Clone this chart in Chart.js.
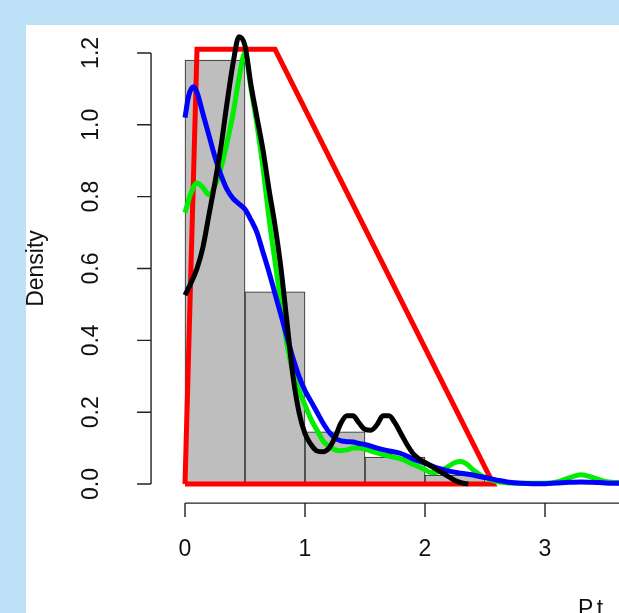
<!DOCTYPE html>
<html lang="en">
<head>
  <meta charset="UTF-8">
  <title>Density</title>
  <style>
    html, body { margin: 0; padding: 0; overflow: hidden; }
    body { background: #bde2f7; width: 619px; height: 613px; position: relative; }
    #panel { position: absolute; left: 26px; top: 25px; width: 800px; height: 700px; background: #ffffff; }
    #grafico { position: absolute; left: 0; top: 0; }
  </style>
  <script src="https://cdn.jsdelivr.net/npm/chart.js"></script>
</head>
<body>
<div id="panel"></div>
<canvas id="grafico" width="760" height="613"></canvas>
<script>
  // histogram (bins of 0.5)
  const binMids = [0.25, 0.75, 1.25, 1.75, 2.25, 2.75, 3.25, 3.75, 4.25];
  const binDensity = [1.18, 0.535, 0.145, 0.075, 0.025, 0, 0.005, 0, 0];

  // red line
  const redX = [0, 0.1, 0.75, 2.57, 0];
  const redY = [0, 1.21, 1.21, 0, 0];

  // green density
  const greenX = [0, 0.05, 0.1, 0.15, 0.2, 0.25, 0.3, 0.35, 0.4, 0.45, 0.5, 0.55, 0.6, 0.65, 0.7, 0.75, 0.8, 0.85, 0.9, 0.95,
    1.0, 1.05, 1.1, 1.15, 1.2, 1.25, 1.3, 1.35, 1.4, 1.45, 1.5, 1.55, 1.6, 1.7, 1.8, 1.9, 2.0, 2.05, 2.1, 2.15, 2.2, 2.25,
    2.3, 2.35, 2.4, 2.5, 2.6, 2.7, 2.8, 3.0, 3.1, 3.2, 3.3, 3.4, 3.5, 3.6, 3.8, 4.0];
  const greenY = [0.755, 0.81, 0.838, 0.825, 0.805, 0.83, 0.88, 0.95, 1.03, 1.13, 1.2, 1.1, 1.0, 0.88, 0.74, 0.62, 0.5, 0.39, 0.31, 0.26,
    0.22, 0.18, 0.15, 0.12, 0.105, 0.095, 0.093, 0.095, 0.1, 0.1, 0.097, 0.092, 0.087, 0.078, 0.07, 0.055, 0.04, 0.032, 0.033, 0.04, 0.05, 0.06,
    0.063, 0.055, 0.04, 0.018, 0.007, 0.003, 0.002, 0.002, 0.006, 0.017, 0.026, 0.018, 0.007, 0.004, 0.002, 0.001];

  // blue density
  const blueX = [0, 0.03, 0.07, 0.1, 0.15, 0.2, 0.25, 0.3, 0.35, 0.4, 0.45, 0.5, 0.55, 0.6, 0.65, 0.7, 0.75, 0.8, 0.85, 0.9, 0.95,
    1.0, 1.05, 1.1, 1.15, 1.2, 1.25, 1.3, 1.35, 1.4, 1.45, 1.5, 1.6, 1.7, 1.8, 1.9, 2.0, 2.1, 2.2, 2.3, 2.4, 2.5, 2.6, 2.7,
    2.8, 2.9, 3.0, 3.1, 3.2, 3.3, 3.4, 3.5, 3.6, 3.8, 4.0];
  const blueY = [1.02, 1.08, 1.106, 1.09, 1.03, 0.97, 0.91, 0.86, 0.82, 0.795, 0.78, 0.765, 0.735, 0.7, 0.645, 0.59, 0.53, 0.47, 0.41, 0.35, 0.3,
    0.26, 0.23, 0.2, 0.17, 0.145, 0.128, 0.12, 0.118, 0.117, 0.113, 0.11, 0.1, 0.092, 0.085, 0.07, 0.058, 0.045, 0.036, 0.03, 0.025, 0.018, 0.011, 0.005,
    0.002, 0.001, 0.001, 0.003, 0.005, 0.006, 0.005, 0.003, 0.002, 0.001, 0];

  // black density
  const blackX = [0, 0.05, 0.1, 0.15, 0.2, 0.25, 0.3, 0.35, 0.4, 0.45, 0.5, 0.55, 0.6, 0.65, 0.7, 0.75, 0.8, 0.85, 0.9, 0.95,
    1.0, 1.05, 1.1, 1.15, 1.2, 1.25, 1.3, 1.35, 1.4, 1.45, 1.5, 1.55, 1.6, 1.65, 1.7, 1.75, 1.8, 1.85, 1.9, 1.95,
    2.0, 2.05, 2.1, 2.15, 2.2, 2.25, 2.3, 2.36];
  const blackY = [0.526, 0.56, 0.6, 0.66, 0.75, 0.84, 0.94, 1.06, 1.17, 1.245, 1.22, 1.11, 1.02, 0.93, 0.82, 0.72, 0.6, 0.45, 0.3, 0.2,
    0.14, 0.11, 0.092, 0.09, 0.1, 0.13, 0.17, 0.19, 0.19, 0.17, 0.152, 0.15, 0.165, 0.19, 0.19, 0.17, 0.14, 0.11, 0.085, 0.07,
    0.06, 0.05, 0.04, 0.03, 0.02, 0.01, 0.004, 0];

  const yTicks = [0, 0.2, 0.4, 0.6, 0.8, 1.0, 1.2];
  const xTicks = [0, 1, 2, 3, 4];
  const yTitle = 'Density';
  const xTitle = 'P.t';

  const toPts = (xs, ys) => xs.map((x, i) => ({ x: x, y: ys[i] }));
  const fuente = '"Liberation Sans", Arial, sans-serif';

  // ejes estilo R
  const ejesR = {
    id: 'ejesR',
    afterDraw(chart) {
      const c = chart.ctx;
      const xs = chart.scales.x, ys = chart.scales.y;
      const axX = xs.getPixelForValue(-0.283);
      const axY = ys.getPixelForValue(-0.053);
      c.save();
      c.strokeStyle = '#222';
      c.fillStyle = '#111';
      c.lineWidth = 1.4;
      c.font = '23px ' + fuente;

      // eje y
      const y0 = ys.getPixelForValue(yTicks[0]);
      const y1 = ys.getPixelForValue(yTicks[yTicks.length - 1]);
      c.beginPath();
      c.moveTo(axX, y0); c.lineTo(axX, y1);
      yTicks.forEach(v => {
        const p = ys.getPixelForValue(v);
        c.moveTo(axX, p); c.lineTo(axX - 14, p);
      });
      c.stroke();
      c.textAlign = 'center';
      c.textBaseline = 'middle';
      yTicks.forEach(v => {
        const p = ys.getPixelForValue(v);
        c.save();
        c.translate(axX - 59, p);
        c.rotate(-Math.PI / 2);
        c.fillText(v.toFixed(1), 0, 0);
        c.restore();
      });
      c.save();
      c.translate(axX - 114, (y0 + y1) / 2);
      c.rotate(-Math.PI / 2);
      c.fillText(yTitle, 0, 0);
      c.restore();

      // eje x
      const x0 = xs.getPixelForValue(xTicks[0]);
      const x1 = xs.getPixelForValue(xTicks[xTicks.length - 1]);
      c.beginPath();
      c.moveTo(x0, axY); c.lineTo(x1, axY);
      xTicks.forEach(v => {
        const p = xs.getPixelForValue(v);
        c.moveTo(p, axY); c.lineTo(p, axY + 14);
      });
      c.stroke();
      xTicks.forEach(v => {
        c.fillText(String(v), xs.getPixelForValue(v), axY + 47);
      });
      c.textAlign = 'left';
      c.textBaseline = 'top';
      c.fillText(xTitle, 578, 598);
      c.restore();
    }
  };

  const ctx = document.getElementById('grafico').getContext('2d');
  const linea = (pts, color, orden, tension) => ({
    type: 'line',
    data: pts,
    borderColor: color,
    borderWidth: 5,
    pointRadius: 0,
    fill: false,
    tension: tension,
    cubicInterpolationMode: tension ? 'monotone' : 'default',
    order: orden
  });

  new Chart(ctx, {
    type: 'bar',
    data: {
      datasets: [
        {
          type: 'bar',
          data: toPts(binMids, binDensity),
          backgroundColor: '#bebebe',
          borderColor: '#222',
          borderWidth: 1,
          borderSkipped: false,
          barPercentage: 1,
          categoryPercentage: 1,
          order: 5
        },
        linea(toPts(redX, redY), '#ff0000', 4, 0),
        linea(toPts(greenX, greenY), '#00ee00', 3, 0.4),
        linea(toPts(blueX, blueY), '#0000ff', 2, 0.4),
        linea(toPts(blackX, blackY), '#000000', 1, 0.4)
      ]
    },
    options: {
      responsive: false,
      animation: false,
      devicePixelRatio: 1,
      layout: { padding: { left: 155, right: 35, top: 17, bottom: 111 } },
      plugins: { legend: { display: false }, tooltip: { enabled: false } },
      scales: {
        x: { type: 'linear', min: -0.25, max: 4.5, offset: false, display: false },
        y: { type: 'linear', min: -0.05, max: 1.3, display: false }
      }
    },
    plugins: [ejesR]
  });
</script>
</body>
</html>
